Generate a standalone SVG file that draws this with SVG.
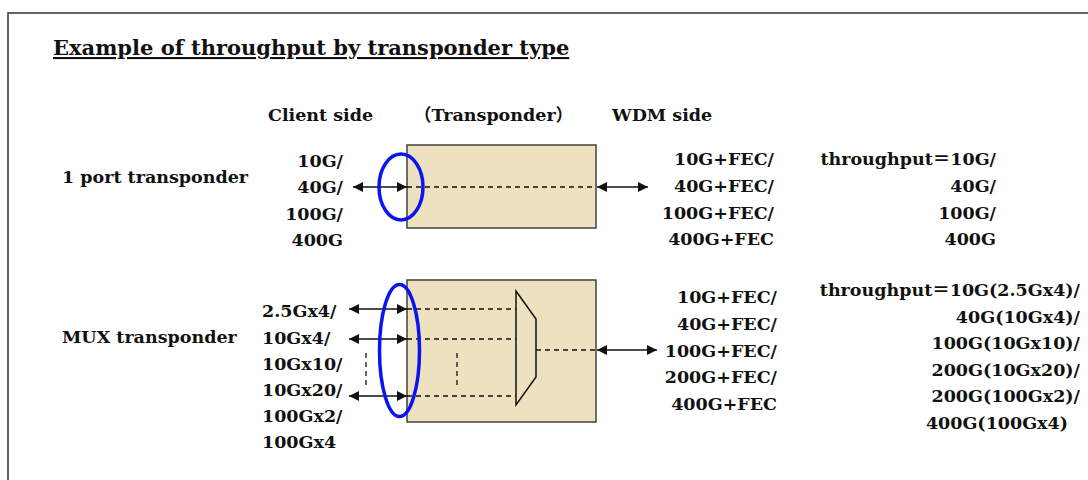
<svg xmlns="http://www.w3.org/2000/svg" width="1088" height="480" viewBox="0 0 1088 480">
<defs>
<style>
text{font-family:"DejaVu Serif","Liberation Serif","Noto Sans CJK JP",serif;font-weight:bold;font-size:17.5px;fill:#111}
.t{font-size:21px;text-decoration:underline}
.r{text-anchor:end}
.box{fill:#EEE1BF;stroke:#404040;stroke-width:1.5}
.dash{stroke:#111;stroke-width:1.3;stroke-dasharray:5,4;fill:none}
.arr{stroke:#111;stroke-width:1.5;fill:none;marker-start:url(#ah);marker-end:url(#ah)}
.ell{fill:none;stroke:#0A14F0;stroke-width:3.5}
</style>
<marker id="ah" viewBox="0 0 10 10" refX="10" refY="5" markerWidth="12" markerHeight="10" markerUnits="userSpaceOnUse" orient="auto-start-reverse">
<path d="M0,0 L10,5 L0,10 Z" fill="#111"/>
</marker>
</defs>
<rect x="8" y="13" width="1100" height="500" fill="none" stroke="#333" stroke-width="1.5"/>
<text class="t" x="53" y="55">Example of throughput by transponder type</text>
<g id="headers">
<text x="268" y="121">Client side</text>
<text x="414" y="121">（Transponder）</text>
<text x="612" y="121">WDM side</text>
</g>
<g id="port1">
<text x="62" y="183">1 port transponder</text>
<rect class="box" x="407" y="145" width="189" height="83"/>
<g class="r">
<text x="343" y="167">10G/</text>
<text x="343" y="193">40G/</text>
<text x="343" y="220">100G/</text>
<text x="343" y="246">400G</text>
<text x="774" y="165">10G+FEC/</text>
<text x="774" y="192">40G+FEC/</text>
<text x="774" y="219">100G+FEC/</text>
<text x="774" y="245">400G+FEC</text>
<text x="996" y="165">throughput＝10G/</text>
<text x="996" y="192">40G/</text>
<text x="996" y="219">100G/</text>
<text x="996" y="245">400G</text>
</g>
</g>
<g id="mux">
<text x="62" y="343">MUX transponder</text>
<rect class="box" x="407" y="280" width="189" height="142"/>
<path d="M516,291 L536,319 L536,377 L516,405 Z" fill="#EEE1BF" stroke="#111" stroke-width="1.5"/>
<text x="262" y="317">2.5Gx4/</text>
<text x="262" y="344">10Gx4/</text>
<text x="262" y="370">10Gx10/</text>
<text x="262" y="396">10Gx20/</text>
<text x="262" y="422">100Gx2/</text>
<text x="262" y="448">100Gx4</text>
<g class="r">
<text x="777" y="303">10G+FEC/</text>
<text x="777" y="330">40G+FEC/</text>
<text x="777" y="357">100G+FEC/</text>
<text x="777" y="383">200G+FEC/</text>
<text x="777" y="410">400G+FEC</text>
<text x="1080" y="296">throughput＝10G(2.5Gx4)/</text>
<text x="1080" y="323">40G(10Gx4)/</text>
<text x="1080" y="349">100G(10Gx10)/</text>
<text x="1080" y="376">200G(10Gx20)/</text>
<text x="1080" y="402">200G(100Gx2)/</text>
<text x="1068" y="429">400G(100Gx4)</text>
</g>
</g>
<g id="connectors">
<line class="dash" x1="407" y1="187" x2="596" y2="187"/>
<line class="arr" x1="353" y1="187" x2="407" y2="187"/>
<line class="arr" x1="597" y1="187" x2="648" y2="187"/>
<line class="dash" x1="407" y1="309" x2="516" y2="309"/>
<line class="dash" x1="407" y1="339" x2="516" y2="339"/>
<line class="dash" x1="407" y1="396" x2="516" y2="396"/>
<line class="dash" x1="536" y1="350" x2="596" y2="350"/>
<line class="dash" x1="457" y1="353" x2="457" y2="385"/>
<line class="dash" x1="366" y1="353" x2="366" y2="385"/>
<line class="arr" x1="349" y1="309" x2="407" y2="309"/>
<line class="arr" x1="349" y1="339" x2="407" y2="339"/>
<line class="arr" x1="349" y1="396" x2="407" y2="396"/>
<line class="arr" x1="597" y1="350" x2="657" y2="350"/>
</g>
<g id="highlights">
<ellipse class="ell" cx="401" cy="187" rx="22" ry="33"/>
<ellipse class="ell" cx="399.5" cy="350.5" rx="20" ry="66"/>
</g>
</svg>
